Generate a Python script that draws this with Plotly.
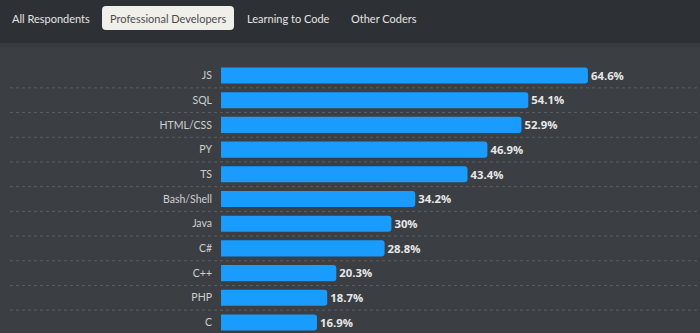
import plotly.graph_objects as go

languages = ["JS", "SQL", "HTML/CSS", "PY", "TS", "Bash/Shell", "Java", "C#", "C++", "PHP", "C"]
shares = [64.6, 54.1, 52.9, 46.9, 43.4, 34.2, 30, 28.8, 20.3, 18.7, 16.9]
tabs = ["All Respondents", "Professional Developers", "Learning to Code", "Other Coders"]
tab_centers_px = [51, 168, 288, 384]
active_tab = "Professional Developers"

W, H = 700, 333
L, T = 221, 62
PW, PH = W - L, H - T

FONT = "Lato, Open Sans, sans-serif"

def px_x(px):
    return (px - L) / PW

def px_y(py):
    return (H - py) / PH

def rounded_rect(x0, y0, x1, y1, r):
    rx, ry = r / PW, r / PH
    X0, X1 = px_x(x0), px_x(x1)
    Yt, Yb = px_y(y0), px_y(y1)
    return (f"M {X0+rx},{Yt} L {X1-rx},{Yt} Q {X1},{Yt} {X1},{Yt-ry} "
            f"L {X1},{Yb+ry} Q {X1},{Yb} {X1-rx},{Yb} "
            f"L {X0+rx},{Yb} Q {X0},{Yb} {X0},{Yb+ry} "
            f"L {X0},{Yt-ry} Q {X0},{Yt} {X0+rx},{Yt} Z")

fig = go.Figure()
fig.add_trace(go.Bar(
    x=shares, y=languages, orientation="h",
    marker=dict(color="#1a9cff", line=dict(width=0), cornerradius=3),
    width=0.65,
    text=[f"{v:g}%" for v in shares],
    textposition="outside",
    textfont=dict(family="Open Sans", size=12, color="#e8e8e8", weight="bold"),
    cliponaxis=False,
    hoverinfo="skip",
))

shapes = []
shapes.append(dict(type="rect", xref="paper", yref="paper",
                   x0=px_x(0), x1=px_x(W), y0=px_y(43), y1=px_y(0),
                   fillcolor="#2d3034", line=dict(width=0), layer="below"))
shapes.append(dict(type="rect", xref="paper", yref="paper",
                   x0=px_x(0), x1=px_x(W), y0=px_y(47), y1=px_y(43),
                   fillcolor="#373b3f", line=dict(width=0), layer="below"))
shapes.append(dict(type="path", xref="paper", yref="paper",
                   path=rounded_rect(102, 6, 234, 30, 4),
                   fillcolor="#f1efea", line=dict(width=0), layer="above"))
for i in range(len(languages) - 1):
    shapes.append(dict(type="line", xref="paper", yref="y",
                       x0=px_x(10), x1=px_x(W), y0=i + 0.5, y1=i + 0.5,
                       line=dict(color="#5b5f64", width=1, dash="dot"), layer="below"))

annotations = []
for name, cx in zip(tabs, tab_centers_px):
    annotations.append(dict(
        text=name, xref="paper", yref="paper", x=px_x(cx), y=px_y(18.5),
        xanchor="center", yanchor="middle", showarrow=False,
        font=dict(family=FONT, size=11,
                  color="#4a4a4a" if name == active_tab else "#e4e4e4"),
    ))

row_px = 24.7
ymin = -(75.5 - T) / row_px
ymax = ymin + PH / row_px

fig.update_layout(
    width=W, height=H,
    margin=dict(l=L, r=0, t=T, b=0, pad=0),
    paper_bgcolor="#3b3f43", plot_bgcolor="#3b3f43",
    showlegend=False,
    xaxis=dict(range=[0, PW / 5.68], visible=False, fixedrange=True),
    yaxis=dict(range=[ymax, ymin], showgrid=False, zeroline=False, showline=False,
               ticks="", ticklabelstandoff=8,
               tickfont=dict(family=FONT, size=10.5, color="#cfcfcf")),
    shapes=shapes,
    annotations=annotations,
)

fig.write_html("out.html")
